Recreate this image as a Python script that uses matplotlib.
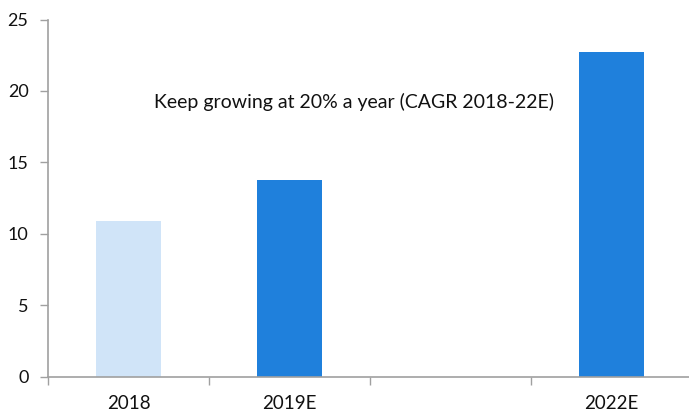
import matplotlib
matplotlib.use("Agg")
import matplotlib.pyplot as plt
from matplotlib.ticker import FixedLocator

categories = ["2018", "2019E", "", "2022E"]
values = [10.9, 13.8, None, 22.7]
bar_colors = ["#D0E4F8", "#1F80DC", "#1F80DC", "#1F80DC"]
note = "Keep growing at 20% a year (CAGR 2018-22E)"

plt.rcParams["font.family"] = ["Lato", "DejaVu Sans"]

fig = plt.figure(figsize=(6.89, 4.12), dpi=100)
ax = fig.add_axes([48 / 689, 1 - 376.7 / 412, 644 / 689, (376.7 - 19.5) / 412])

xs = list(range(len(categories)))
for x, v, c in zip(xs, values, bar_colors):
    if v is not None:
        ax.bar(x, v, width=0.405, color=c, zorder=2)

ax.set_xlim(-0.5, len(categories) - 0.5)
ax.set_ylim(0, 25)
ax.set_yticks([0, 5, 10, 15, 20, 25])

ax.set_xticks(xs)
ax.set_xticklabels(categories, fontsize=13.5, color="#111111")
ax.xaxis.set_minor_locator(FixedLocator([-0.5, 0.5, 1.5, 2.5]))
ax.tick_params(axis="x", which="major", length=0, pad=13)
ax.tick_params(axis="x", which="minor", length=6, width=1, color="#A0A0A0", direction="out")
ax.tick_params(axis="y", length=6, width=1, color="#A0A0A0", direction="out",
               pad=8, labelsize=13, labelcolor="#111111")

for s in ["top", "right"]:
    ax.spines[s].set_visible(False)
for s in ["left", "bottom"]:
    ax.spines[s].set_color("#A0A0A0")
    ax.spines[s].set_linewidth(1.2)

ax.text(1.40, 19.2, note, ha="center", va="center", fontsize=14, color="#111111")

fig.savefig("out.png", dpi=100)
